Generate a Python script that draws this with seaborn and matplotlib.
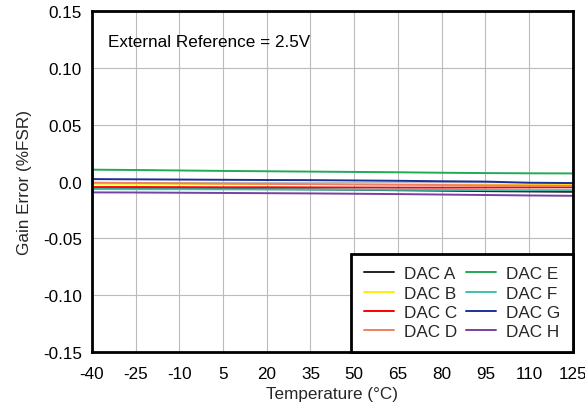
import matplotlib
matplotlib.use("Agg")
import matplotlib.pyplot as plt
import seaborn as sns
import pandas as pd

temps = [-40, -25, -10, 5, 20, 35, 50, 65, 80, 95, 110, 125]
dac_a = [-0.0058, -0.0060, -0.0062, -0.0064, -0.0066, -0.0068, -0.0072, -0.0076, -0.0080, -0.0084, -0.0087, -0.0090]
dac_b = [-0.0018, -0.0019, -0.0020, -0.0021, -0.0022, -0.0022, -0.0023, -0.0024, -0.0025, -0.0026, -0.0027, -0.0028]
dac_c = [-0.0048, -0.0048, -0.0049, -0.0050, -0.0050, -0.0051, -0.0052, -0.0053, -0.0053, -0.0052, -0.0051, -0.0050]
dac_d = [-0.0010, -0.0012, -0.0015, -0.0018, -0.0020, -0.0022, -0.0025, -0.0028, -0.0030, -0.0033, -0.0035, -0.0037]
dac_e = [0.0105, 0.0102, 0.0098, 0.0094, 0.0091, 0.0088, 0.0085, 0.0082, 0.0078, 0.0075, 0.0073, 0.0072]
dac_f = [-0.0066, -0.0067, -0.0067, -0.0068, -0.0069, -0.0070, -0.0071, -0.0072, -0.0073, -0.0074, -0.0075, -0.0075]
dac_g = [0.0022, 0.0020, 0.0018, 0.0016, 0.0014, 0.0013, 0.0010, 0.0007, 0.0003, 0.0000, -0.0010, -0.0013]
dac_h = [-0.0095, -0.0096, -0.0098, -0.0100, -0.0102, -0.0104, -0.0107, -0.0110, -0.0114, -0.0118, -0.0122, -0.0125]

series_names = ["DAC A", "DAC B", "DAC C", "DAC D", "DAC E", "DAC F", "DAC G", "DAC H"]
series_vals = [dac_a, dac_b, dac_c, dac_d, dac_e, dac_f, dac_g, dac_h]
colors = ["#222222", "#ffee00", "#ff0000", "#f08060", "#22aa55", "#40c0b0", "#1a2f9a", "#7a3fa0"]

yticks = [-0.15, -0.10, -0.05, 0.0, 0.05, 0.10, 0.15]
ytick_labels = ["-0.15", "-0.10", "-0.05", "0.0", "0.05", "0.10", "0.15"]

rows = []
for name, vals in zip(series_names, series_vals):
    for t, v in zip(temps, vals):
        rows.append({"Temperature": t, "Gain": v, "DAC": name})
df = pd.DataFrame(rows)

sns.set_theme(style="white")
plt.rcParams['font.family'] = ['Liberation Sans', 'DejaVu Sans']
FS = 12.3

fig = plt.figure(figsize=(5.85, 4.06), dpi=100)
ax = fig.add_axes([0.157, 0.1305, 0.822, 0.8395])

sns.lineplot(data=df, x="Temperature", y="Gain", hue="DAC", hue_order=series_names,
             palette=colors, linewidth=1.4, ax=ax, legend=True)

ax.set_xlim(-40, 125)
ax.set_ylim(-0.15, 0.15)
ax.set_xticks(temps)
ax.set_xticklabels([str(t) for t in temps], fontsize=FS)
ax.set_yticks(yticks)
ax.set_yticklabels(ytick_labels, fontsize=FS)
ax.grid(True, color="#bbbbbb", linewidth=0.8)
ax.set_axisbelow(True)
for s in ax.spines.values():
    s.set_color("black")
    s.set_linewidth(2)
ax.tick_params(axis="x", length=0, pad=10, colors="black")
ax.tick_params(axis="y", length=0, pad=7, colors="black")
ax.set_xlabel("Temperature (°C)", fontsize=FS, labelpad=4)
ax.set_ylabel("Gain Error (%FSR)", fontsize=FS, labelpad=8)

ax.text(0.034, 0.912, "External Reference = 2.5V", transform=ax.transAxes,
        fontsize=FS, va="center", ha="left", color="black")

leg = ax.legend(loc="lower right", bbox_to_anchor=(1.0, 0.0), ncol=2, frameon=True,
                fancybox=False, borderaxespad=0, fontsize=FS, handlelength=1.8,
                columnspacing=0.5, handletextpad=0.55, labelspacing=0.25,
                borderpad=0.75, title=None)
leg.get_frame().set_edgecolor("black")
leg.get_frame().set_linewidth(2)
leg.get_frame().set_alpha(1)

fig.savefig("out.png", dpi=100)
